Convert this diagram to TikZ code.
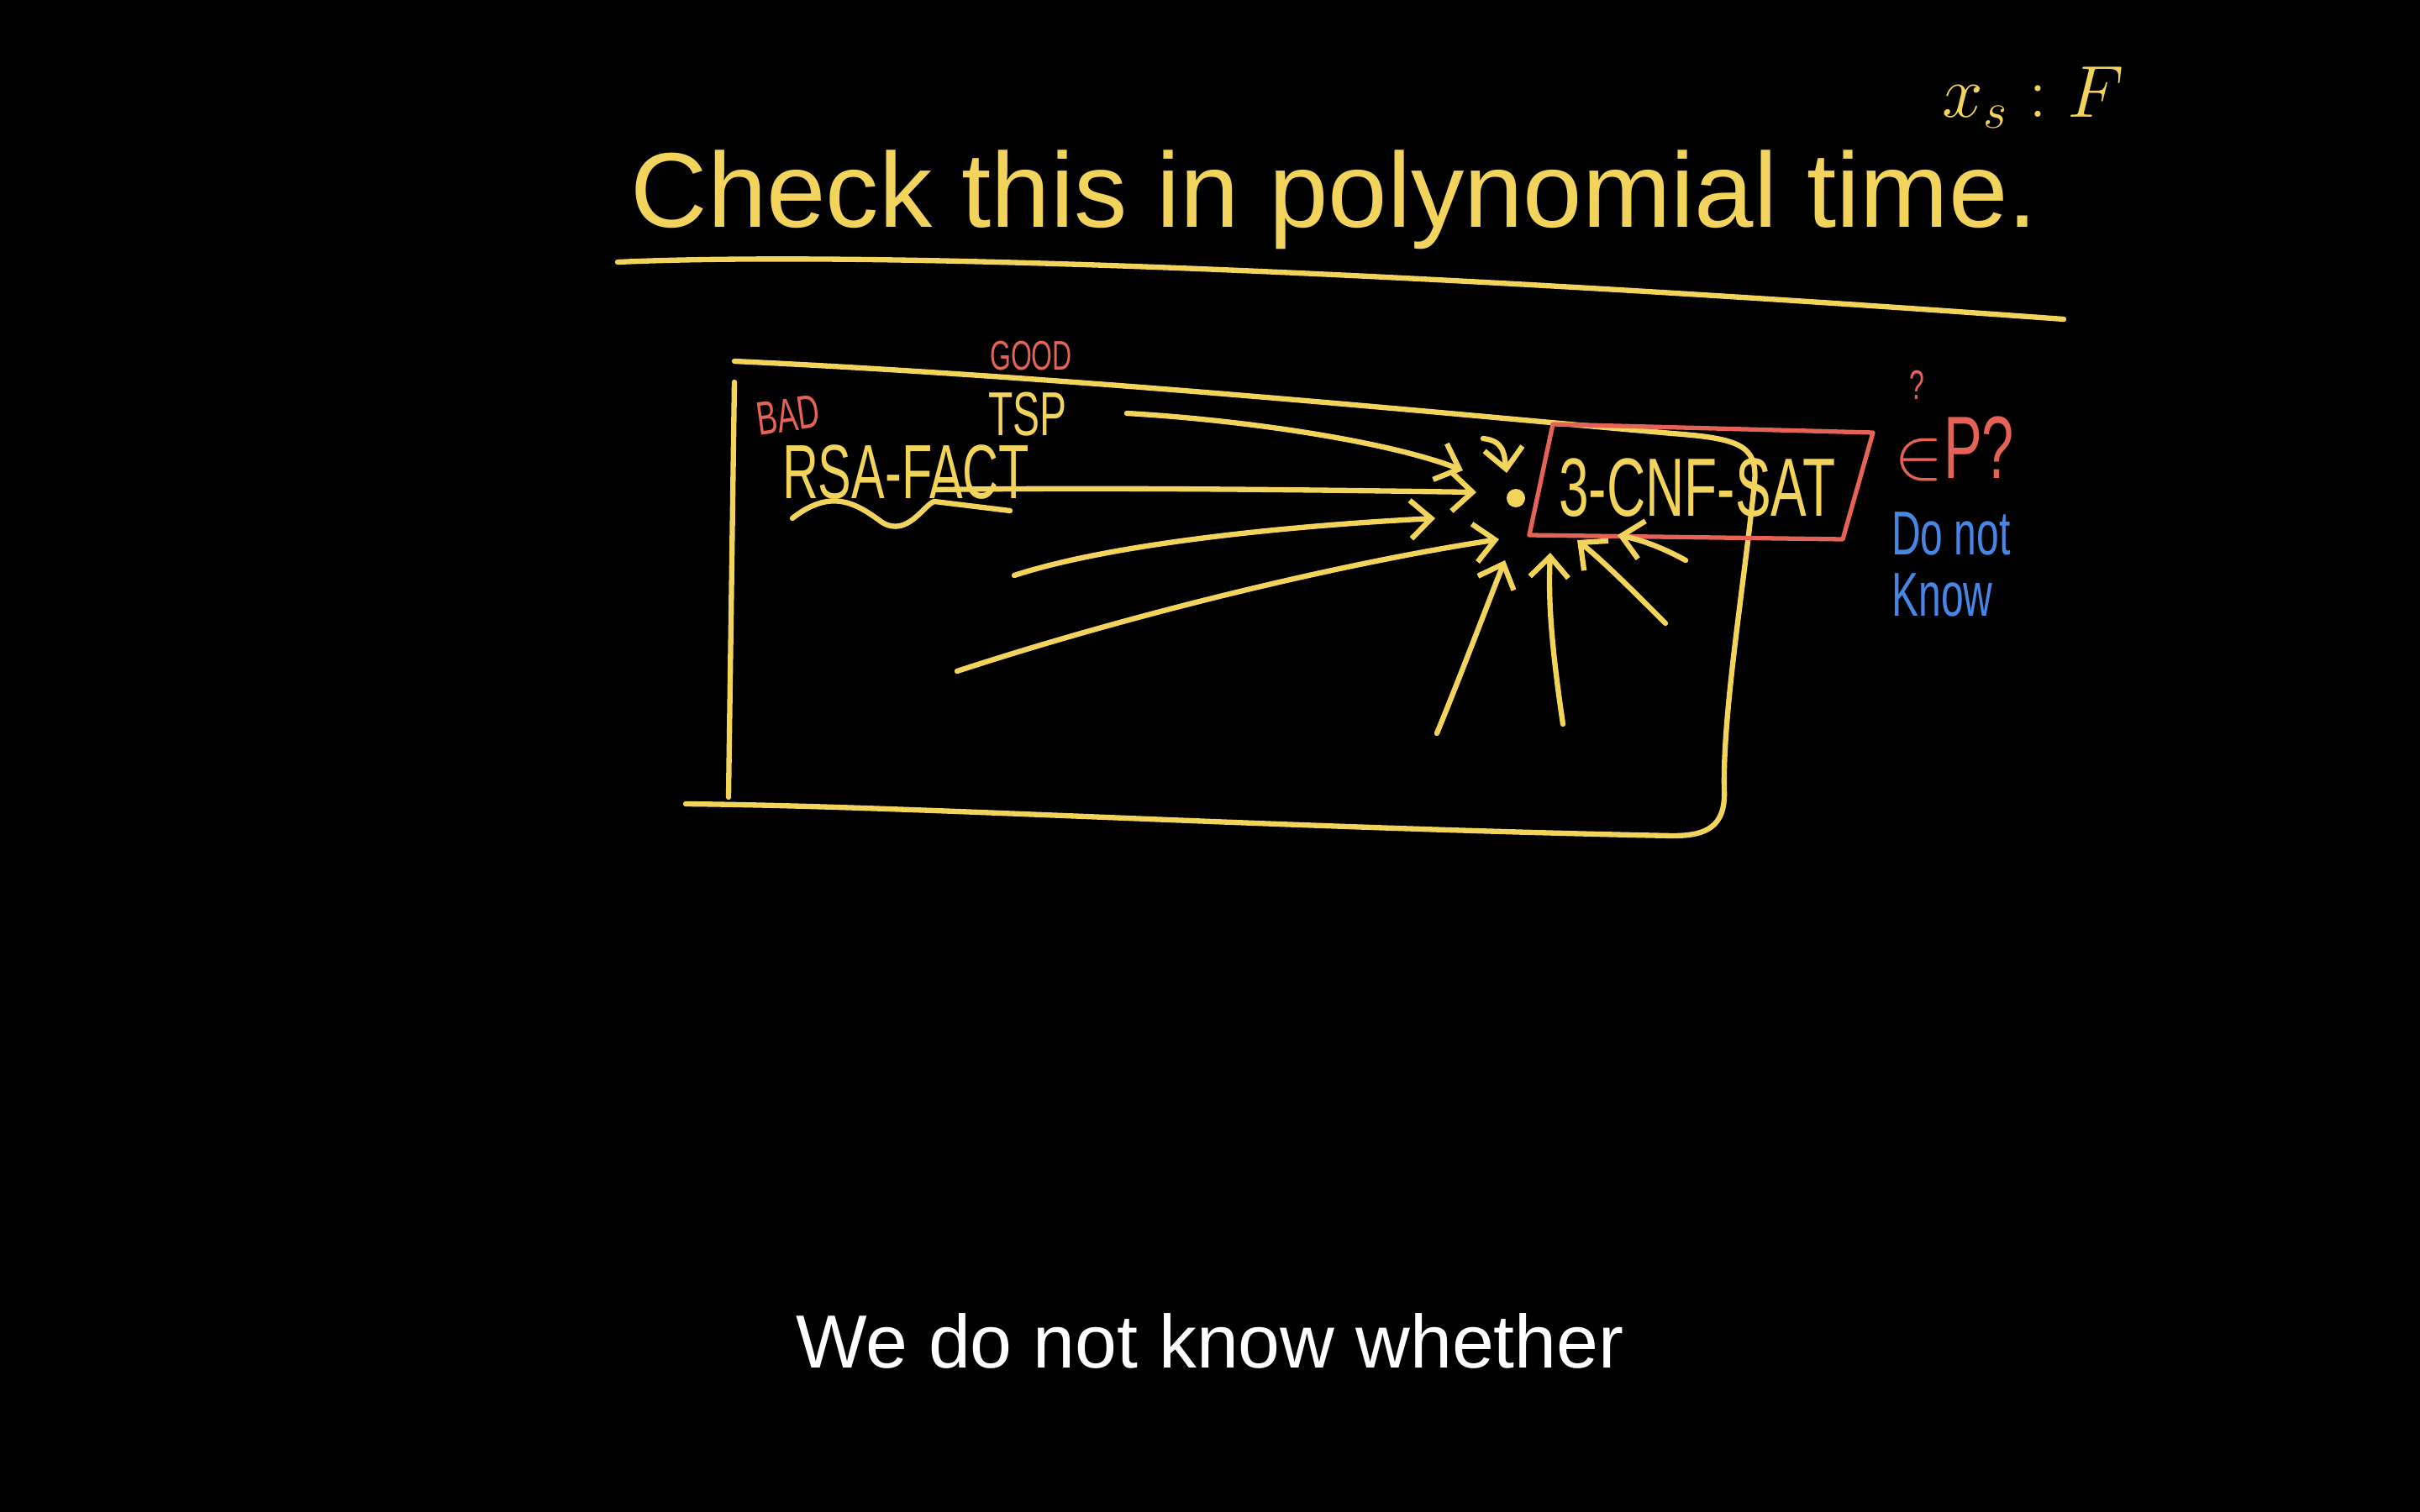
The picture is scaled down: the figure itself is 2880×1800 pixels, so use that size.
\documentclass[tikz,border=0pt]{standalone}
\usepackage{fontspec}
\setmainfont{Liberation Sans}
\newfontfamily\handfont[FakeStretch=0.65]{Liberation Sans}
\usetikzlibrary{arrows.meta}
\definecolor{chalk}{RGB}{242,212,92}
\definecolor{redink}{RGB}{228,98,86}
\definecolor{blueink}{RGB}{72,134,230}

\begin{document}
\begin{tikzpicture}[x=0.01cm, y=-0.01cm, >={Straight Barb[length=7pt,width=13pt]},
    line join=round, line cap=round,
    pen/.style={chalk, line width=1.8pt},
    redpen/.style={redink, line width=1.5pt},
    hand/.style={text=chalk, inner sep=0pt}]
\fill[black] (0,0) rectangle (2880,1800);
\useasboundingbox (0,0) rectangle (2880,1800);

% heading
\node[hand, font=\fontsize{36}{40}\selectfont] (title) at (1588,238) {Check this in polynomial time.};
\begin{scope}
  \clip (2200,50) rectangle (2545,200);
  \node[hand, font=\fontsize{26}{28}\selectfont] (xs) at (2420,116) {$x_s : F$};
\end{scope}
\draw[pen] (735,312) .. controls (1050,298) and (1700,325) .. (2456,380);

% the big box
\draw[pen] (874,430) .. controls (1300,450) and (1750,495) .. (1990,516)
  .. controls (2070,522) and (2092,530) .. (2088,575)
  .. controls (2075,700) and (2050,850) .. (2052,940)
  .. controls (2054,985) and (2030,995) .. (1990,995)
  .. controls (1500,985) and (1100,960) .. (816,957);
\draw[pen] (874,455) -- (867,949);

% problems
\node[hand, font=\handfont\fontsize{26}{28}\selectfont] (rsa) at (1078,562) {RSA-FACT};
\node[hand, font=\handfont\fontsize{21}{24}\selectfont] (tsp) at (1223,493) {TSP};
\node[hand, text=redink, font=\handfont\fontsize{16}{18}\selectfont, rotate=8] (bad) at (938,494) {BAD};
\node[hand, text=redink, font=\handfont\fontsize{14}{16}\selectfont] (good) at (1227,424) {GOOD};
\draw[pen] (943,617) .. controls (990,580) and (1020,600) .. (1050,622)
  .. controls (1080,640) and (1100,600) .. (1112,597) -- (1202,608);

% 3-CNF-SAT
\draw[redpen] (1848,505) -- (2229,515) -- (2193,642) -- (1820,637) -- cycle;
\node[hand, font=\handfont\fontsize{28}{30}\selectfont] (sat) at (2020,581) {3-CNF-SAT};
\node[hand, text=redink, font=\handfont\fontsize{30}{32}\selectfont] (inp) at (2326,534) {$\in$P?};
\node[hand, text=redink, font=\handfont\fontsize{14}{16}\selectfont] (qm) at (2281,458) {?};
\node[hand, text=blueink, font=\handfont\fontsize{21}{21}\selectfont, align=left] (dnk) at (2322,672) {Do not\\Know};

% arrows into 3-CNF-SAT
\coordinate (hub) at (1804,593);
\fill[chalk] (hub) circle (11);
\coordinate (t1) at (1341,492);   \coordinate (t2) at (1741,560);
\coordinate (r1) at (1112,583);   \coordinate (r2) at (1757,586);
\coordinate (h1) at (1765,522);   \coordinate (h2) at (1793,563);
\coordinate (d1) at (1207,685);   \coordinate (d2) at (1708,617);
\coordinate (e1) at (1139,799);   \coordinate (e2) at (1784,642);
\coordinate (f1) at (1710,873);   \coordinate (f2) at (1791,667);
\coordinate (g1) at (1860,862);   \coordinate (g2) at (1845,658);
\coordinate (k1) at (1982,742);   \coordinate (k2) at (1877,643);
\coordinate (m1) at (2006,667);   \coordinate (m2) at (1925,637);
\draw[pen, ->] (t1) .. controls (1480,500) and (1650,525) .. (t2);
\draw[pen, ->] (r1) .. controls (1300,580) and (1550,583) .. (r2);
\draw[pen, ->] (h1) .. controls (1790,525) and (1790,540) .. (h2);
\draw[pen, ->] (d1) .. controls (1330,645) and (1550,625) .. (d2);
\draw[pen, ->] (e1) .. controls (1350,730) and (1600,670) .. (e2);
\draw[pen, ->] (f1) .. controls (1740,800) and (1770,720) .. (f2);
\draw[pen, ->] (g1) .. controls (1848,780) and (1842,720) .. (g2);
\draw[pen, ->] (k1) .. controls (1940,700) and (1910,670) .. (k2);
\draw[pen, ->] (m1) .. controls (1975,650) and (1950,642) .. (m2);

% caption
\node[text=white, font=\fontsize{25.5}{30}\selectfont, anchor=base, inner sep=0pt] (caption) at (1440,1628) {We do not know whether};
\end{tikzpicture}
\end{document}
